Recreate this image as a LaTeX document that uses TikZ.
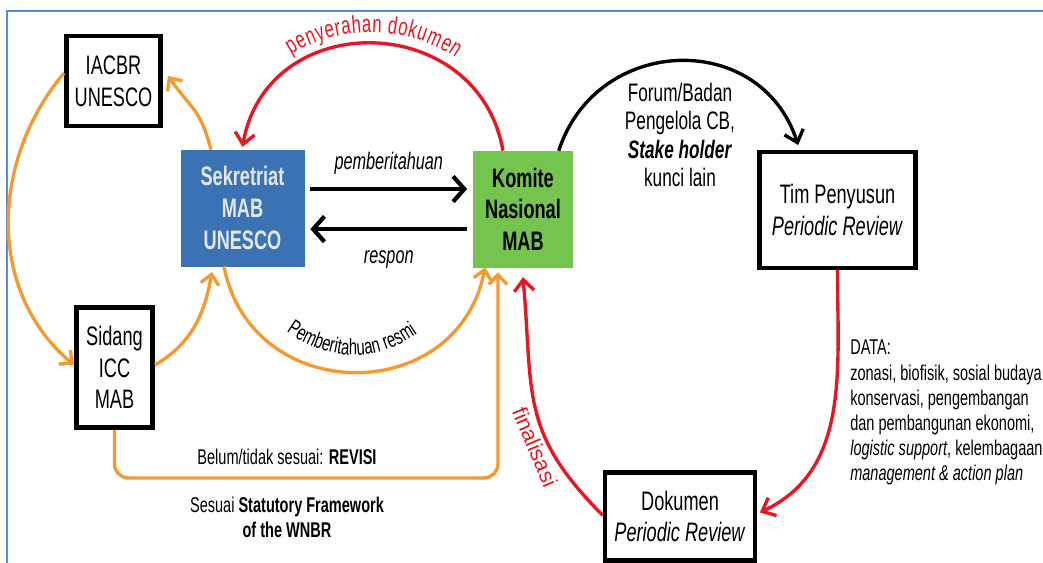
\documentclass[tikz,border=0pt]{standalone}
\usepackage{fontspec}
\setmainfont{Liberation Sans}[FakeStretch=0.68]
\newfontfamily\plainsans{Liberation Sans}
\usepackage{tikz}
\usetikzlibrary{arrows.meta,decorations.text}

\definecolor{mabOrange}{RGB}{243,155,50}
\definecolor{mabRed}{RGB}{230,22,35}
\definecolor{secBlue}{RGB}{58,114,180}
\definecolor{komGreen}{RGB}{118,196,80}
\definecolor{secText}{RGB}{228,232,236}
\definecolor{frameBlue}{RGB}{90,140,210}

\newcommand\boxfont{\fontsize{19pt}{22.5pt}\selectfont}
\newcommand\labfont{\fontsize{17pt}{20pt}\selectfont}
\newcommand\forumfont{\fontsize{18pt}{20pt}\selectfont}
\newcommand\smallfont{\fontsize{15.2pt}{17.8pt}\selectfont}
\newcommand\redlab{\color{mabRed}\fontsize{17.5pt}{20pt}\selectfont}
\newcommand\resmilab{\fontsize{15.5pt}{18pt}\selectfont}

\tikzset{
  boxnode/.style={draw=black, line width=3.2pt, fill=white, align=center, inner sep=0pt, font=\boxfont},
  secnode/.style={draw=secBlue, fill=secBlue, text=secText, align=center, inner sep=0pt, font=\boxfont\bfseries},
  komnode/.style={draw=komGreen, fill=komGreen, align=center, inner sep=0pt, font=\boxfont\bfseries},
  orangearrow/.style={draw=mabOrange, line width=2.4pt, -{Straight Barb[length=7pt,width=13pt]}},
  redarrow/.style={draw=mabRed, line width=2.4pt, -{Straight Barb[length=8pt,width=14pt]}},
  blackarrow/.style={draw=black, line width=3pt, -{Straight Barb[length=8pt,width=18pt]}},
  arcarrow/.style={draw=black, line width=2.4pt, -{Straight Barb[length=8pt,width=14pt]}},
  frameline/.style={draw=frameBlue, line width=1.6pt}
}

\begin{document}
\begin{tikzpicture}[x=0.025cm,y=0.025cm]
	\useasboundingbox (0,0) rectangle (1043,563);
	\draw[frameline] (7,0) -- (7,552) -- (1043,552);

	\node[boxnode, minimum width=2.36cm, minimum height=2.24cm] (iacbr) at (113.5,482) {IACBR\\UNESCO};
	\node[secnode, minimum width=3.075cm, minimum height=2.9cm] (sek) at (242.5,355) {Sekretriat\\MAB\\UNESCO};
	\node[komnode, minimum width=2.475cm, minimum height=2.9cm] (kom) at (523,354) {Komite\\Nasional\\MAB};
	\node[boxnode, minimum width=3.91cm, minimum height=2.89cm] (tim) at (837.5,353) {Tim Penyusun\\\textit{Periodic Review}};
	\node[boxnode, minimum width=1.91cm, minimum height=3.01cm] (sid) at (114.5,195.5) {Sidang\\ICC\\MAB};
	\node[boxnode, minimum width=3.74cm, minimum height=2.21cm] (dok) at (680,46.5) {Dokumen\\\textit{Periodic Review}};

	\draw[blackarrow] ([xshift=4.3pt,yshift=13.5pt]sek.east) -- ([xshift=-4.3pt,yshift=13.5pt]sek.east -| kom.west)
		node[midway, yshift=18pt, font=\labfont\itshape] (pemb) {pemberitahuan};
	\draw[blackarrow] ([xshift=-4.3pt,yshift=-15pt]sek.east -| kom.west) -- ([xshift=4.3pt,yshift=-15pt]sek.east)
		node[midway, yshift=-21.5pt, font=\labfont\itshape] (respon) {respon};

	\draw[redarrow] ([xshift=-14.25pt]kom.north) to[out=100,in=80,looseness=1.4] ([yshift=2pt]sek.north);
	\path[decorate, decoration={text along path, text={|\redlab|penyerahan dokumen}, text align=center, raise=7.8pt}]
		([yshift=2pt]sek.north) to[out=80,in=100,looseness=1.4] ([xshift=-14.25pt]kom.north);

	\draw[arcarrow] ([xshift=-10pt]kom.north east) to[out=72,in=108,looseness=1.3] ([xshift=-28pt,yshift=3.5pt]tim.north);
	\node[align=center, font=\forumfont] (forum) at (680,428) {Forum/Badan\\Pengelola CB,\\\textbf{\textit{Stake holder}}\\kunci lain};

	\draw[orangearrow] ([yshift=5.7pt]iacbr.west) to[out=230,in=140,looseness=1] ([yshift=1.8pt]sid.west);
	\draw[orangearrow] ([xshift=-22.4pt]sek.north) to[out=105,in=-55,looseness=1.3] ([xshift=3.6pt,yshift=3.6pt]iacbr.east);
	\draw[orangearrow] ([yshift=1.8pt]sid.east) to[out=30,in=-100,looseness=1] ([xshift=-21.7pt,yshift=-4pt]sek.south);
	\draw[orangearrow] ([xshift=-13.2pt]sek.south) to[out=-79,in=-101,looseness=1.4] ([xshift=-27pt]kom.south);
	\coordinate (resmiL) at (262,252);
	\coordinate (resmiR) at (442,250);
	\path[decorate, decoration={text along path, text={|\resmilab|Pemberitahuan resmi}, text align=center}]
		(resmiL) to[out=-45,in=-135,looseness=1.15] (resmiR);

	\coordinate (loop) at (300,85);
	\draw[orangearrow, rounded corners=10pt] (sid.south) |- (loop) -| ([xshift=-17.8pt,yshift=-3.5pt]kom.south);
	\node[font=\smallfont] (revisi) at (287,106) {Belum/tidak sesuai: \textbf{REVISI}};
	\node[font=\smallfont, align=center] (sesuai) at (287,46) {Sesuai \textbf{Statutory Framework}\\\textbf{of the WNBR}};

	\draw[redarrow] (tim.south) to[out=-90,in=25,looseness=1] ([xshift=2pt,yshift=2.85pt]dok.east);
	\draw[redarrow] ([yshift=0.7pt]dok.west) to[out=135,in=-85,looseness=1.2] ([yshift=-7pt]kom.south);
	\node[rotate=-67, text=mabRed, font=\plainsans\fontsize{15.5pt}{18pt}\selectfont] (final) at (535,116) {finalisasi};

	\node[anchor=north west, inner sep=0pt, align=left, font=\smallfont] (data) at (850,223)
		{DATA:\\zonasi, biofisik, sosial budaya\\konservasi, pengembangan\\dan pembangunan ekonomi,\\\textit{logistic support}, kelembagaan\\\textit{management \& action plan}};
\end{tikzpicture}
\end{document}
